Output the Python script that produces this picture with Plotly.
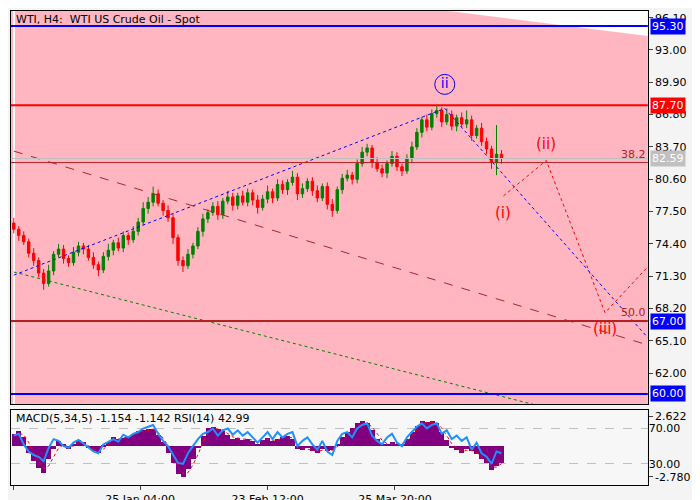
import plotly.graph_objects as go

# price data (H4 bars)
closes = [75.8, 75.2, 74.6, 73.5, 72.8, 71.6, 70.6, 71.8, 73.4, 73.9,
          73.0, 72.6, 73.6, 74.2, 73.9, 73.1, 72.4, 71.9, 73.2, 73.8,
          74.5, 74.0, 75.2, 74.8, 75.6, 76.5, 77.8, 78.4, 79.2, 78.3,
          77.6, 76.9, 75.0, 72.8, 72.3, 73.4, 74.2, 75.6, 76.8, 77.4,
          78.0, 77.2, 78.5, 78.9, 78.1, 79.0, 78.4, 79.3, 78.6, 77.9,
          78.7, 79.4, 78.8, 80.1, 79.6, 80.3, 80.8, 79.2, 79.7, 80.4,
          79.5, 78.8, 79.9, 78.2, 77.6, 79.6, 80.7, 81.0, 80.6, 82.1,
          83.2, 83.6, 82.2, 81.6, 81.2, 82.1, 82.8, 81.8, 81.4, 82.6,
          83.7, 85.1, 86.3, 85.6, 86.9, 87.2, 86.1, 86.8, 85.7, 86.5,
          85.9, 86.3, 84.8, 85.5, 84.2, 83.5, 82.2, 83.0, 82.6]
first_open = 76.4
wick_up = [0.5, 0.3, 0.4, 0.3, 0.5, 0.3, 0.4, 0.6, 0.3, 0.5,
           0.4, 0.3, 0.5, 0.4, 0.3, 0.4, 0.5, 0.3, 0.4, 0.6,
           0.3, 0.5, 0.4, 0.3, 0.5, 0.4, 0.6, 0.5, 0.7, 0.4,
           0.3, 0.5, 0.4, 0.3, 0.4, 0.5, 0.3, 0.4, 0.5, 0.3,
           0.4, 0.5, 0.3, 0.6, 0.4, 0.3, 0.5, 0.4, 0.3, 0.5,
           0.4, 0.6, 0.3, 0.5, 0.4, 0.3, 0.6, 0.4, 0.5, 0.3,
           0.4, 0.5, 0.3, 0.4, 0.5, 0.3, 0.4, 0.5, 0.3, 0.4,
           0.5, 0.4, 0.3, 0.5, 0.4, 0.3, 0.5, 0.4, 0.3, 0.4,
           0.5, 0.4, 0.3, 0.5, 0.4, 0.5, 0.3, 0.6, 0.4, 0.3,
           0.5, 0.9, 0.4, 0.3, 0.5, 0.4, 0.3, 2.8, 0.4]
wick_dn = [0.4, 0.5, 0.3, 0.4, 0.5, 0.4, 0.6, 0.3, 0.4, 0.3,
           0.5, 0.4, 0.3, 0.4, 0.5, 0.3, 0.4, 0.6, 0.3, 0.4,
           0.5, 0.3, 0.4, 0.5, 0.3, 0.4, 0.3, 0.5, 0.4, 0.3,
           0.5, 0.4, 0.6, 0.5, 0.6, 0.3, 0.4, 0.3, 0.5, 0.4,
           0.3, 0.5, 0.4, 0.3, 0.5, 0.4, 0.3, 0.4, 0.5, 0.6,
           0.3, 0.4, 0.5, 0.3, 0.4, 0.5, 0.3, 0.6, 0.4, 0.3,
           0.5, 0.4, 0.3, 0.5, 0.6, 0.3, 0.4, 0.3, 0.5, 0.4,
           0.3, 0.4, 0.5, 0.3, 0.4, 0.5, 0.3, 0.4, 0.5, 0.3,
           0.4, 0.3, 0.5, 0.4, 0.3, 0.4, 0.5, 0.3, 0.4, 0.5,
           0.3, 0.4, 0.5, 0.3, 0.4, 0.5, 0.6, 1.2, 0.5]

# indicator data
macd_hist = [1.1, 1.3, 0.8, -0.6, -1.4, -2.0, -2.4, -1.2, -0.3, 0.4,
             0.2, -0.3, 0.1, 0.5, 0.3, -0.2, -0.5, -0.6, -0.1, 0.3,
             0.8, 0.6, 0.7, 0.9, 1.1, 1.3, 1.4, 1.5, 1.5, 1.0,
             0.3, -0.6, -1.5, -2.5, -2.8, -2.1, -1.2, -0.2, 0.9, 1.6,
             1.7, 1.5, 1.3, 1.0, 0.6, 0.7, 0.5, 0.6, 0.4, 0.2,
             0.5, 0.7, 0.4, 0.6, 0.8, 0.9, 0.6, -0.3, -0.4, -0.2,
             -0.5, -0.6, -0.3, -0.5, -0.4, 0.2, 0.8, 1.2, 1.6, 2.0,
             2.2, 2.0, 1.4, 0.6, 0.2, 0.1, 0.3, 0.2, 0.1, 0.6,
             1.2, 1.8, 2.2, 2.1, 2.2, 2.0, 1.2, 0.5, -0.2, -0.4,
             -0.6, -0.3, -0.5, -0.7, -1.2, -1.5, -2.2, -1.8, -1.5]
macd_signal = [0.9, 1.1, 1.0, 0.3, -0.6, -1.4, -2.0, -1.8, -1.0, -0.2,
               0.1, -0.1, 0.0, 0.3, 0.3, 0.0, -0.3, -0.5, -0.3, 0.1,
               0.5, 0.6, 0.7, 0.8, 1.0, 1.2, 1.3, 1.4, 1.5, 1.2,
               0.7, 0.0, -0.9, -1.8, -2.5, -2.4, -1.7, -0.8, 0.3, 1.1,
               1.5, 1.5, 1.4, 1.1, 0.8, 0.7, 0.6, 0.6, 0.5, 0.3,
               0.4, 0.6, 0.5, 0.5, 0.7, 0.8, 0.7, 0.1, -0.3, -0.3,
               -0.4, -0.5, -0.4, -0.4, -0.4, -0.1, 0.4, 0.9, 1.3, 1.7,
               2.0, 2.0, 1.7, 1.1, 0.5, 0.2, 0.2, 0.2, 0.2, 0.4,
               0.9, 1.4, 1.9, 2.1, 2.1, 2.0, 1.6, 0.9, 0.2, -0.2,
               -0.5, -0.4, -0.4, -0.6, -1.0, -1.3, -1.9, -1.9, -1.6]
rsi = [62, 64, 52, 44, 40, 38, 33, 48, 58, 56,
       50, 48, 54, 57, 53, 49, 44, 42, 52, 55,
       58, 55, 63, 60, 64, 66, 70, 72, 74, 64,
       56, 50, 40, 31, 30, 42, 50, 58, 64, 66,
       70, 62, 68, 70, 63, 68, 62, 66, 60, 54,
       60, 66, 58, 66, 60, 64, 66, 50, 56, 60,
       52, 46, 56, 44, 40, 56, 64, 66, 60, 70,
       74, 76, 62, 56, 52, 60, 64, 54, 50, 60,
       66, 72, 76, 70, 74, 76, 64, 68, 58, 62,
       56, 60, 46, 54, 42, 38, 30, 44, 42]

levels = [95.30, 87.70, 82.59, 67.00, 60.00]
level_colors = ['#0000ff', '#ff0000', '#c0c0c0', '#0000ff', '#0000ff']
fib_level = 82.2
price_ticks = [96.10, 93.00, 89.90, 86.80, 83.70, 80.60, 77.50, 74.40, 71.30, 68.20, 65.10, 62.00]
date_labels = ['22 Dec 2023', '25 Jan 04:00', '23 Feb 12:00', '25 Mar 20:00']
date_pos = [0, 25.4, 51, 76.6]

# trend lines and wave path (bar index, price)
blue_up = ([0, 86.6], [71.4, 87.4])
blue_dn = ([86.6, 127.4], [87.4, 65.4])
brown_line = ([0, 127.4], [83.3, 64.7])
green_line = ([0, 104.4], [71.7, 59.0])
wave_x = [98.4, 107, 118.8, 127.8]
wave_y = [79.0, 82.4, 67.8, 72.4]

n = len(closes)
bars = list(range(n))
opens = [first_open] + closes[:-1]
highs = [max(o, c) + w for o, c, w in zip(opens, closes, wick_up)]
lows = [min(o, c) - w for o, c, w in zip(opens, closes, wick_dn)]

fig = go.Figure()
fig.add_trace(go.Candlestick(x=bars, open=opens, high=highs, low=lows, close=closes,
                             increasing=dict(line=dict(color='#008000', width=1), fillcolor='#008000'),
                             decreasing=dict(line=dict(color='#ff0000', width=1), fillcolor='#ff0000'),
                             whiskerwidth=0, showlegend=False, hoverinfo='skip'))

for (lx, ly), col, dash in [(blue_up, '#0000ff', 'dot'), (blue_dn, '#0000ff', 'dot'),
                            (brown_line, '#a52a2a', 'dash'), (green_line, '#008000', 'dot')]:
    fig.add_trace(go.Scatter(x=lx, y=ly, mode='lines', line=dict(color=col, width=1, dash=dash),
                             showlegend=False, hoverinfo='skip'))
fig.add_trace(go.Scatter(x=wave_x, y=wave_y, mode='lines', line=dict(color='#ff0000', width=1, dash='dot'),
                         showlegend=False, hoverinfo='skip'))

# lower panel
fig.add_trace(go.Bar(x=bars, y=macd_hist, marker=dict(color='#800080', line=dict(width=0)),
                     width=1, xaxis='x2', yaxis='y2', showlegend=False))
fig.add_trace(go.Scatter(x=bars, y=macd_signal, mode='lines', line=dict(color='#ff0000', width=1, dash='dot'),
                         xaxis='x2', yaxis='y2', showlegend=False))
fig.add_trace(go.Scatter(x=bars, y=rsi, mode='lines', line=dict(color='#1e90ff', width=2),
                         xaxis='x2', yaxis='y3', showlegend=False))

xr = [-0.6, 127.4]
font = dict(family='DejaVu Sans', size=11, color='black')
fig.update_layout(
    width=700, height=500, margin=dict(l=0, r=0, t=0, b=0),
    paper_bgcolor='#f4f4f4', plot_bgcolor='#ffb6c1', font=font, bargap=0,
    xaxis=dict(domain=[0.004, 0.914], range=xr, showticklabels=False, showgrid=False, automargin=False,
               rangeslider=dict(visible=False), anchor='y', mirror=True, showline=True, linecolor='black'),
    yaxis=dict(domain=[0.208, 0.994], range=[59.04, 96.74], side='right', tickvals=price_ticks,
               ticktext=['%.2f' % v for v in price_ticks], ticks='outside', ticklen=4, showgrid=False,
               showline=True, linecolor='black', mirror=True, anchor='x', zeroline=False, automargin=False),
    xaxis2=dict(domain=[0.004, 0.914], range=xr, anchor='y2', tickvals=date_pos, ticktext=date_labels,
                ticks='outside', ticklen=4, showgrid=False, showline=True, linecolor='black', mirror=True,
                automargin=False),
    yaxis2=dict(domain=[0.046, 0.196], range=[-3.5, 3.2], side='right', anchor='x2',
                tickvals=[2.622, -2.780], ticktext=['2.622', '-2.780'], ticks='outside', ticklen=4,
                showgrid=False, zeroline=False, showline=True, linecolor='black', mirror=True, automargin=False),
    yaxis3=dict(domain=[0.046, 0.196], range=[6, 91], overlaying='y2', side='right', anchor='x2',
                tickvals=[70, 30], ticktext=['70.00', '30.00'], showgrid=True, gridcolor='#c0c0c0',
                griddash='dash', zeroline=False, automargin=False),
)
fig.add_shape(type='rect', xref='x2 domain', yref='y2 domain', x0=0, x1=1, y0=0, y1=1,
              fillcolor='#f7f7f7', line=dict(width=0), layer='below')

# white wedge at top right
fig.add_shape(type='path', xref='paper', yref='paper', path='M 0.63 0.994 L 0.914 0.994 L 0.914 0.944 Z',
              fillcolor='white', line=dict(width=0), layer='below')

for lv, col in zip(levels, level_colors):
    lc = '#b22222' if lv == 67.00 else col
    fig.add_shape(type='line', xref='x domain', yref='y', x0=0, x1=1, y0=lv, y1=lv,
                  line=dict(color=lc, width=2 if lv != 82.59 else 1))
    fig.add_annotation(x=1, xref='x domain', y=lv, yref='y', xanchor='left', text='%.2f' % lv,
                       showarrow=False, bgcolor=col, font=dict(color='white', size=11),
                       borderpad=1, xshift=2)
fig.add_shape(type='line', xref='x domain', yref='y', x0=0, x1=1, y0=fib_level, y1=fib_level,
              line=dict(color='#b22222', width=1))
fig.add_annotation(x=1, xref='x domain', y=fib_level, yref='y', xanchor='right', yanchor='bottom',
                   text='38.2', showarrow=False, font=dict(color='#b22222', size=11))
fig.add_annotation(x=1, xref='x domain', y=67.0, yref='y', xanchor='right', yanchor='bottom',
                   text='50.0', showarrow=False, font=dict(color='#b22222', size=11))

wave_labels = ['(i)', '(ii)', '(iii)', '(iv)']
label_y = [77.4, 84.0, 66.2, 74.2]
for wx, wy, t in zip(wave_x, label_y, wave_labels):
    fig.add_annotation(x=wx, y=wy, text=t, showarrow=False, font=dict(color='#ff0000', size=15))
# circled wave ii
fig.add_trace(go.Scatter(x=[86.6], y=[89.7], mode='markers+text', text=['ii'], textposition='middle center',
                         textfont=dict(color='#0000ff', size=14),
                         marker=dict(symbol='circle-open', size=20, color='#0000ff', line=dict(width=1)),
                         showlegend=False, hoverinfo='skip'))

fig.add_annotation(x=0.008, xref='paper', y=0.994, yref='paper', xanchor='left', yanchor='top',
                   text='WTI, H4:  WTI US Crude Oil - Spot', showarrow=False, font=font)
fig.add_annotation(x=0.008, xref='paper', y=0.196, yref='paper', xanchor='left', yanchor='top',
                   text='MACD(5,34,5) -1.154 -1.142 RSI(14) 42.99', showarrow=False, font=font)

fig.write_html("out.html")
